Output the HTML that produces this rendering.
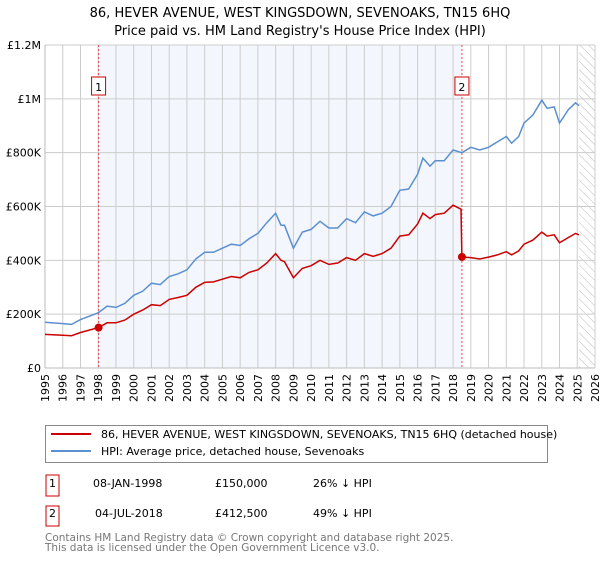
<!DOCTYPE html>
<html><head><meta charset="utf-8"><style>
body{margin:0;background:#fff;font-family:"Liberation Sans","DejaVu Sans",sans-serif;}
svg text{font-family:"DejaVu Sans","Liberation Sans",sans-serif;}
</style></head><body>
<svg id="chart" width="600" height="560" xmlns="http://www.w3.org/2000/svg">
<defs><pattern id="hatch" width="6" height="6" patternUnits="userSpaceOnUse" patternTransform="rotate(-45)"><line x1="0" y1="0" x2="0" y2="6" stroke="#bbb" stroke-width="1"/></pattern></defs>
<text x="300" y="17" text-anchor="middle" font-size="13">86, HEVER AVENUE, WEST KINGSDOWN, SEVENOAKS, TN15 6HQ</text>
<text x="300" y="35" text-anchor="middle" font-size="13">Price paid vs. HM Land Registry's House Price Index (HPI)</text>
<g id="plot"></g>
<rect x="45.5" y="425.5" width="502" height="37" fill="#fff" stroke="#888"/>
<line x1="51" y1="434" x2="91" y2="434" stroke="#cc0000" stroke-width="2"/>
<text x="101" y="438" font-size="11">86, HEVER AVENUE, WEST KINGSDOWN, SEVENOAKS, TN15 6HQ (detached house)</text>
<line x1="51" y1="451" x2="91" y2="451" stroke="#5b8fd0" stroke-width="2"/>
<text x="101" y="455" font-size="11">HPI: Average price, detached house, Sevenoaks</text>
<g font-size="11">
<rect x="46" y="475" width="13" height="21" fill="#fff" stroke="#cc0000"/><text x="52.5" y="487" text-anchor="middle">1</text>
<text x="93" y="487">08-JAN-1998</text><text x="215" y="487">£150,000</text><text x="313" y="487">26% ↓ HPI</text></g>
<g font-size="11">
<rect x="46" y="506" width="13" height="20" fill="#fff" stroke="#cc0000"/><text x="52.5" y="517" text-anchor="middle">2</text>
<text x="95" y="517">04-JUL-2018</text><text x="215" y="517">£412,500</text><text x="313" y="517">49% ↓ HPI</text></g>
<text x="45" y="541" font-size="10.5" fill="#777">Contains HM Land Registry data © Crown copyright and database right 2025.</text>
<text x="45" y="551" font-size="10.5" fill="#777">This data is licensed under the Open Government Licence v3.0.</text>
</svg>
<script>
const hpiYears=[1995,1996,1996.5,1997,1998,1998.5,1999,1999.5,2000,2000.5,2001,2001.5,2002,2002.5,2003,2003.5,2004,2004.5,2005,2005.5,2006,2006.5,2007,2007.5,2008,2008.3,2008.5,2009,2009.5,2010,2010.5,2011,2011.5,2012,2012.5,2013,2013.5,2014,2014.5,2015,2015.5,2016,2016.3,2016.7,2017,2017.5,2018,2018.5,2019,2019.5,2020,2020.5,2021,2021.3,2021.7,2022,2022.5,2023,2023.3,2023.7,2024,2024.5,2024.9,2025.1];
const hpiValues=[170,165,162,180,205,230,225,240,270,285,315,310,340,350,365,405,430,430,445,460,455,480,500,540,575,530,530,445,505,515,545,520,520,555,540,580,565,575,600,660,665,720,780,750,770,770,810,800,820,810,820,840,860,835,860,910,940,995,965,970,910,960,985,975];
const priceYears=[1995,1996,1996.5,1997,1998.02,1998.5,1999,1999.5,2000,2000.5,2001,2001.5,2002,2002.5,2003,2003.5,2004,2004.5,2005,2005.5,2006,2006.5,2007,2007.5,2008,2008.3,2008.5,2009,2009.5,2010,2010.5,2011,2011.5,2012,2012.5,2013,2013.5,2014,2014.5,2015,2015.5,2016,2016.3,2016.7,2017,2017.5,2018,2018.45,2018.5,2019,2019.5,2020,2020.5,2021,2021.3,2021.7,2022,2022.5,2023,2023.3,2023.7,2024,2024.5,2024.9,2025.1];
const priceValues=[125,122,120,132,150,168,168,178,200,215,235,232,255,262,270,300,318,320,330,340,335,355,365,390,425,400,395,335,370,380,400,385,390,410,400,425,415,425,445,490,495,535,575,555,570,575,605,590,412.5,410,405,412,420,432,420,435,460,475,505,490,495,465,485,500,495];
const saleYears=[1998.02,2018.5];
const saleValues=[150,412.5];
const saleLabels=["1","2"];
const yTicks=[0,200,400,600,800,1000,1200];
const yTickLabels=["£0","£200K","£400K","£600K","£800K","£1M","£1.2M"];
const xTicks=[1995,1996,1997,1998,1999,2000,2001,2002,2003,2004,2005,2006,2007,2008,2009,2010,2011,2012,2013,2014,2015,2016,2017,2018,2019,2020,2021,2022,2023,2024,2025,2026];

const L=45,R=595,T=45,B=368;
const x=y=>L+(y-1995)*(R-L)/31;
const yv=v=>B-v*(B-T)/1200;
const NS="http://www.w3.org/2000/svg";
const g=document.getElementById('plot');
function mk(t,a){const e=document.createElementNS(NS,t);for(const k in a)e.setAttribute(k,a[k]);g.appendChild(e);return e;}
let e;
e=mk('rect',{x:x(saleYears[0]),y:T,width:x(saleYears[1])-x(saleYears[0]),height:B-T,fill:'#eef3fc',opacity:0.7});


e=mk('rect',{x:x(2025.1),y:T,width:R-x(2025.1),height:B-T,fill:'url(#hatch)'});


xTicks.forEach(t=>{mk('line',{x1:x(t),x2:x(t),y1:T,y2:B,stroke:'#ccc','stroke-width':1});
 e=mk('text',{transform:`translate(${x(t)+4},${B+6}) rotate(-90)`,'text-anchor':'end','font-size':11});e.textContent=t;
 
 });
yTicks.forEach((t,i)=>{mk('line',{x1:L,x2:R,y1:yv(t),y2:yv(t),stroke:'#ccc','stroke-width':1});
 e=mk('text',{x:L-4,y:yv(t)+4,'text-anchor':'end','font-size':11});e.textContent=yTickLabels[i];
 
 });
mk('line',{x1:L,x2:L,y1:T,y2:B,stroke:'#bbb'});
mk('line',{x1:L,x2:R,y1:B,y2:B,stroke:'#bbb'});
saleYears.forEach((s,i)=>{e=mk('line',{x1:x(s),x2:x(s),y1:T,y2:B,stroke:'#e05050','stroke-dasharray':'2,2','stroke-width':1});
 
 
 e=mk('rect',{x:x(s)-7,y:77,width:14,height:18,fill:'#fff',stroke:'#cc0000'});
 
 
 e=mk('text',{x:x(s),y:91,'font-size':11,'text-anchor':'middle'});e.textContent=saleLabels[i];});
function path(xs,vs,col,name){const d=xs.map((t,i)=>(i?'L':'M')+x(t).toFixed(1)+','+yv(vs[i]).toFixed(1)).join('');
 const p=mk('path',{d:d,fill:'none',stroke:col,'stroke-width':1.5});
 
 }
path(hpiYears,hpiValues,'#5b8fd0','hpi-line');
path(priceYears,priceValues,'#cc0000','price-line');
saleYears.forEach((s,i)=>{e=mk('circle',{cx:x(s),cy:yv(saleValues[i]),r:4,fill:'#cc0000'});
 
 });
</script>
</body></html>
